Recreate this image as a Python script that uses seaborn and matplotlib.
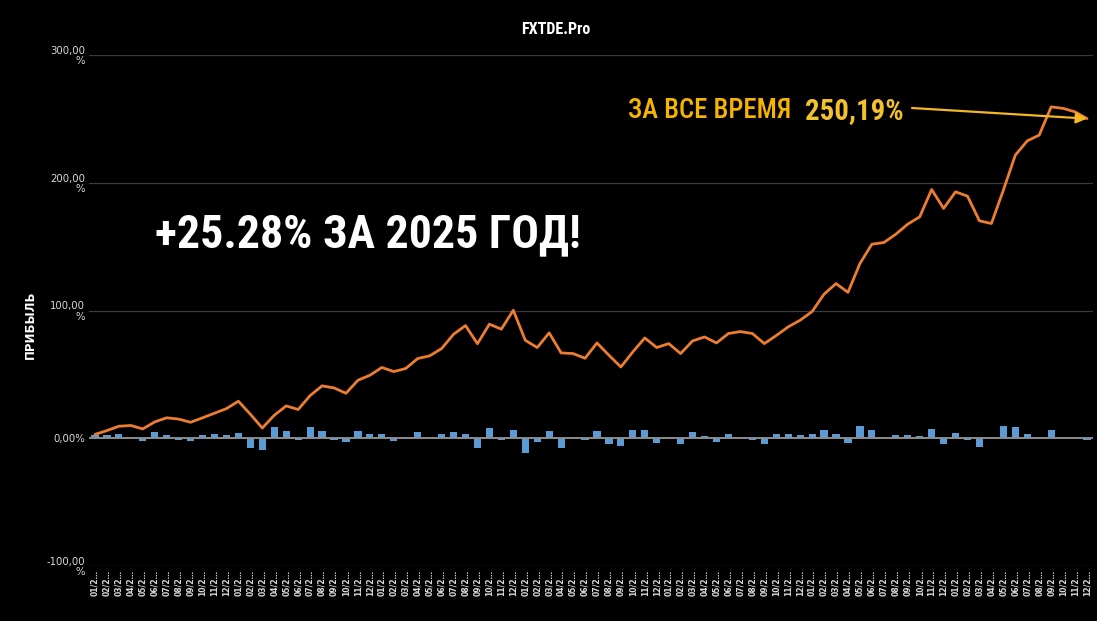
import numpy as np
import pandas as pd
import matplotlib
matplotlib.use("Agg")
import matplotlib.pyplot as plt
import seaborn as sns

# --- data (7 years, monthly) ---
months = ["01", "02", "03", "04", "05", "06", "07", "08", "09", "10", "11", "12"]
month_labels = [m + "/2…" for m in months] * 7

monthly_pct = [
    2.6, 2.6, 3.7, 0.3, -2.0, 5.0, 2.6, -1.0, -1.8, 2.6, 3.4, 2.6,
    3.9, -7.3, -9.4, 8.9, 5.7, -1.6, 8.9, 5.7, -1.0, -2.9, 5.5, 3.1,
    3.7, -1.8, 0.8, 4.7, 0.8, 3.1, 4.7, 3.1, -7.3, 7.8, -1.6, 6.8,
    -11.2, -2.6, 5.5, -7.8, 0.2, -1.6, 6.0, -4.7, -6.0, 6.3, 6.3, -3.4,
    0.8, -4.2, 5.2, 1.6, -2.6, 3.7, 0.2, -1.0, -4.2, 3.1, 3.1, 2.3,
    3.7, 6.3, 3.1, -3.4, 9.6, 6.5, 0.2, 2.6, 2.6, 1.8, 7.3, -4.4,
    4.2, -1.0, -6.5, 0.2, 9.9, 9.1, 3.4, 1.0, 6.5, 0.0, 0.0, -1.3,
]

cumulative_pct = [
    3.0, 6.0, 9.4, 10.0, 7.3, 12.8, 16.0, 15.0, 12.5, 16.0, 19.6, 23.2,
    29.0, 18.8, 8.0, 18.0, 25.3, 22.5, 33.4, 41.0, 39.4, 35.2, 45.4, 49.3,
    55.4, 52.2, 54.6, 62.4, 64.5, 70.2, 81.4, 88.2, 74.0, 89.3, 85.4, 100.2,
    76.7, 71.0, 82.5, 66.8, 66.3, 62.6, 74.6, 65.0, 55.8, 67.6, 78.5, 71.0,
    74.1, 66.3, 76.2, 79.3, 74.6, 82.0, 83.5, 82.0, 74.1, 80.4, 87.2, 92.4,
    99.2, 112.8, 121.1, 114.2, 136.8, 151.9, 153.2, 159.7, 167.6, 173.3, 194.7, 179.9,
    192.9, 189.5, 170.2, 168.1, 194.2, 221.6, 232.8, 237.3, 259.4, 258.2, 255.5, 250.19,
]

y_ticks = [-100, 0, 100, 200, 300]
y_tick_labels = ["-100,00\n%", "0,00%", "100,00\n%", "200,00\n%", "300,00\n%"]

df = pd.DataFrame({
    "idx": np.arange(len(monthly_pct)),
    "monthly": monthly_pct,
    "cum": cumulative_pct,
})

sns.set_style("dark", {"axes.facecolor": "black", "figure.facecolor": "black"})
plt.rcParams["font.family"] = ["DejaVu Sans"]

W, H = 1097, 621
fig = plt.figure(figsize=(W / 100, H / 100), dpi=100, facecolor="black")
ax = fig.add_axes([89 / W, (H - 566) / H, (1093 - 89) / W, (566 - 55) / H])
ax.set_facecolor("black")

sns.barplot(data=df, x="idx", y="monthly", color="#5B9BD5", saturation=1,
            width=0.6, linewidth=0, ax=ax, zorder=2)
sns.lineplot(data=df, x="idx", y="cum", color="#ED7D31", linewidth=2.0,
             ax=ax, zorder=4)

ax.set_ylim(-100, 300)
ax.set_xlim(-0.5, len(monthly_pct) - 0.5)
ax.set_yticks(y_ticks)
ax.set_yticklabels(y_tick_labels, fontsize=7.3, color="#d9d9d9",
                   ha="right", multialignment="right", linespacing=1.0)
ax.set_xticks(df["idx"])
ax.set_xticklabels(month_labels, rotation=90, fontsize=5.5, color="#d9d9d9",
                   fontweight="bold")
ax.tick_params(axis="both", length=0, pad=3)
ax.set_xlabel("")
ax.set_ylabel("")

for t in y_ticks:
    if t != 0:
        ax.axhline(t, color="#3a3a3a", lw=0.9, zorder=1)
ax.axhline(0, color="#8c8c8c", lw=1.4, zorder=3)
for s in ax.spines.values():
    s.set_visible(False)

# condensed faces if any are installed, else plain fallbacks
narrow = ["Roboto Condensed", "Noto Sans ExtraCondensed", "Noto Sans Condensed",
          "Liberation Sans Narrow", "Noto Sans", "DejaVu Sans"]

title = fig.text(556 / W, 1 - 30 / H, "FXTDE.Pro", ha="center", va="center",
                 fontsize=9, fontweight="bold", color="white", family=narrow,
                 fontstretch="condensed")
fig.text(30 / W, 1 - 325 / H, "ПРИБЫЛЬ", rotation=90, ha="center", va="center",
         fontsize=8.5, fontweight="bold", color="white")

big = fig.text(155 / W, 1 - 234 / H, "+25.28% ЗА 2025 ГОД!", ha="left",
               va="center", fontsize=34, fontweight="heavy", color="white",
               family=narrow, fontstretch="condensed")
all_time = fig.text(628 / W, 1 - 111 / H, "ЗА ВСЕ ВРЕМЯ", ha="left", va="center",
                    fontsize=20, fontweight="medium", color="#F5B400",
                    family=narrow, fontstretch="condensed")
total = fig.text(904 / W, 1 - 111 / H, "250,19%", ha="right", va="center",
                 fontsize=20, fontweight="bold", color="#F2C12E", family=narrow,
                 fontstretch="condensed")


def fit_width(txt, target_px):
    fig.canvas.draw()
    w = txt.get_window_extent().width
    txt.set_fontsize(txt.get_fontsize() * target_px / w)


fit_width(title, 70)
fit_width(big, 426)
fit_width(all_time, 164)
fit_width(total, 99)

ax.annotate("", xy=(len(cumulative_pct) - 1, cumulative_pct[-1]),
            xycoords="data", xytext=(912, H - 108), textcoords="figure pixels",
            arrowprops=dict(arrowstyle="-|>", color="#F2B722", lw=1.6,
                            mutation_scale=16, shrinkA=0, shrinkB=0),
            zorder=5)

fig.savefig("out.png", dpi=100, facecolor="black")
